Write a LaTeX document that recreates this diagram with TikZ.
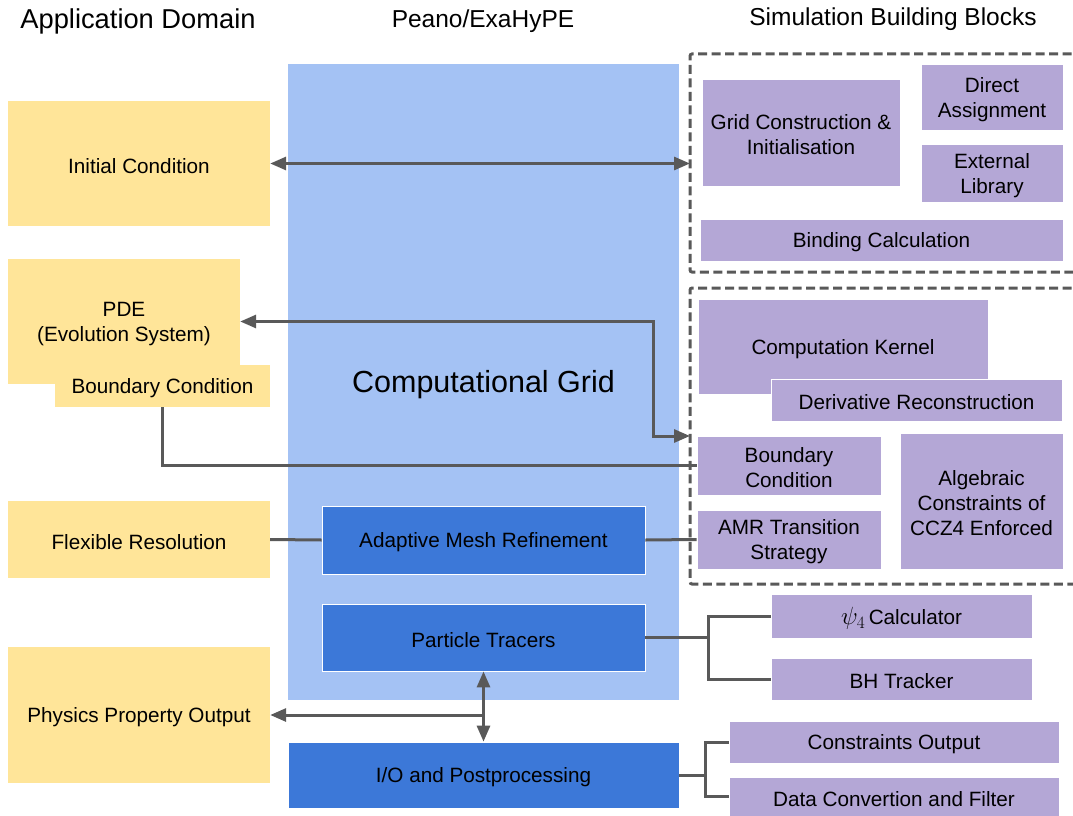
\documentclass[tikz,border=0pt]{standalone}
\usepackage{fontspec}
\setmainfont{Liberation Sans}
\usetikzlibrary{arrows.meta}
\definecolor{yel}{HTML}{FFE599}
\definecolor{lblue}{HTML}{A4C2F4}
\definecolor{dblue}{HTML}{3C78D8}
\definecolor{purp}{HTML}{B4A7D6}
\definecolor{gr}{HTML}{595959}
\tikzset{
  base/.style={inner sep=0pt},
  lbl/.style={inner sep=0pt, align=center, font=\fontsize{20.7}{25}\selectfont, yshift=-2.2pt},
  ybox/.style={base, fill=yel},
  pbox/.style={base, fill=purp, draw=white, line width=0.8pt},
  dbox/.style={base, fill=dblue, draw=white, line width=0.8pt},
  gbox/.style={base, fill=lblue},
  dashbox/.style={draw=gr, dash pattern=on 9pt off 4.5pt, line width=3pt, rounded corners=2pt},
  conn/.style={draw=gr, line width=3pt},
  arr/.style={conn, {Triangle[length=16pt,width=13pt]}-{Triangle[length=16pt,width=13pt]}},
  larr/.style={conn, {Triangle[length=16pt,width=13pt]}-},
  head/.style={inner sep=0pt, font=\fontsize{24.5}{30}\selectfont},
}
\begin{document}
\begin{tikzpicture}[x=1pt,y=-1pt]
\useasboundingbox (0,0) rectangle (1073,816);
% headers
\node[head, font=\fontsize{27.3}{30}\selectfont] (h1) at (138,21) {Application Domain};
\node[head] (h2) at (483,21) {Peano/ExaHyPE};
\node[head] (h3) at (893,19) {Simulation Building Blocks};
% big grid
\node[gbox, minimum width=391pt, minimum height=636pt,
  label={[lbl, font=\fontsize{30.5}{34}\selectfont]center:Computational Grid}] (grid) at (483.5,382) {};
% dashed boxes
\draw[dashbox] (1085,54) -- (690,54) -- (690,272) -- (1085,272);
\draw[dashbox] (1085,288) -- (690,288) -- (690,584) -- (1085,584);
\coordinate (d1w) at (690,163.5);
% yellow
\node[ybox, minimum width=262pt, minimum height=125pt, label={[lbl]center:Initial Condition}] (ic) at (139,163.5) {};
\node[ybox, minimum width=232pt, minimum height=125pt, label={[lbl]center:{PDE\\(Evolution System)}}] (pde) at (124,321.5) {};
\node[ybox, minimum width=215pt, minimum height=42pt, label={[lbl]center:Boundary Condition}] (bc) at (162.5,386) {};
\node[ybox, minimum width=262pt, minimum height=77pt, label={[lbl]center:Flexible Resolution}] (fr) at (139,539.5) {};
\node[ybox, minimum width=262pt, minimum height=136pt, label={[lbl]center:Physics Property Output}] (ppo) at (139,715) {};
% dark blue
\node[dbox, minimum width=323pt, minimum height=68pt, label={[lbl]center:Adaptive Mesh Refinement}] (amr) at (483.5,540) {};
\node[dbox, minimum width=323pt, minimum height=67pt, label={[lbl]center:Particle Tracers}] (pt) at (483.5,637.5) {};
\node[dbox, minimum width=391pt, minimum height=66pt, label={[lbl]center:I/O and Postprocessing}] (io) at (483.5,775) {};
% purple
\node[pbox, minimum width=198pt, minimum height=107pt, label={[lbl]center:{Grid Construction \&\\Initialisation}}] (gc) at (801,132.5) {};
\node[pbox, minimum width=142pt, minimum height=66pt, label={[lbl]center:{Direct\\Assignment}}] (da) at (992,97) {};
\node[pbox, minimum width=142pt, minimum height=58pt, label={[lbl]center:{External\\Library}}] (el) at (992,173) {};
\node[pbox, minimum width=363pt, minimum height=42pt, label={[lbl]center:Binding Calculation}] (bind) at (881.5,240) {};
\node[pbox, minimum width=290pt, minimum height=95pt, label={[lbl]center:Computation Kernel}] (ck) at (843,346.5) {};
\node[pbox, minimum width=291pt, minimum height=42pt, label={[lbl]center:Derivative Reconstruction}] (dr) at (916.5,400) {};
\node[pbox, minimum width=184pt, minimum height=59pt, label={[lbl]center:{Boundary\\Condition}}] (pbc) at (789,465.5) {};
\node[pbox, minimum width=184pt, minimum height=59pt, label={[lbl]center:{AMR Transition\\Strategy}}] (amrt) at (789,539.5) {};
\node[pbox, minimum width=163pt, minimum height=136pt, label={[lbl]center:{Algebraic\\Constraints of\\CCZ4 Enforced}}] (alg) at (981.5,501) {};
\node[pbox, minimum width=261pt, minimum height=44pt, label={[lbl]center:{{\fontsize{27}{30}\selectfont$\psi_4$}\,Calculator}}] (psi) at (901.5,616) {};
\node[pbox, minimum width=261pt, minimum height=42pt, label={[lbl]center:BH Tracker}] (bh) at (901.5,679) {};
\node[pbox, minimum width=330pt, minimum height=42pt, label={[lbl]center:Constraints Output}] (co) at (894,742) {};
\node[pbox, minimum width=330pt, minimum height=39pt, label={[lbl]center:Data Convertion and Filter}] (dc) at (894,796.5) {};
% connectors
\draw[arr] (ic.east) -- (d1w);
\coordinate (pdeturn) at (653,321.5);
\coordinate (d2in) at (690,436);
\draw[arr] (pde.east) -- (pdeturn) |- (d2in);
\draw[conn] (bc.south) |- (pbc.west);
\draw[conn] (fr.east) -- (amr.west);
\draw[conn] (amr.east) -- (amrt.west);
\coordinate (ptj) at (708,637.5);
\draw[conn] (pt.east) -- (ptj);
\draw[conn] (psi.west) -| (ptj) |- (bh.west);
\coordinate (ioj) at (705,775);
\draw[conn] (io.east) -- (ioj);
\draw[conn] (co.west) -| (ioj) |- (dc.west);
\draw[arr] (pt.south) -- (io.north);
\coordinate (ppoj) at (483.5,715);
\draw[larr] (ppo.east) -- (ppoj);
\end{tikzpicture}
\end{document}
